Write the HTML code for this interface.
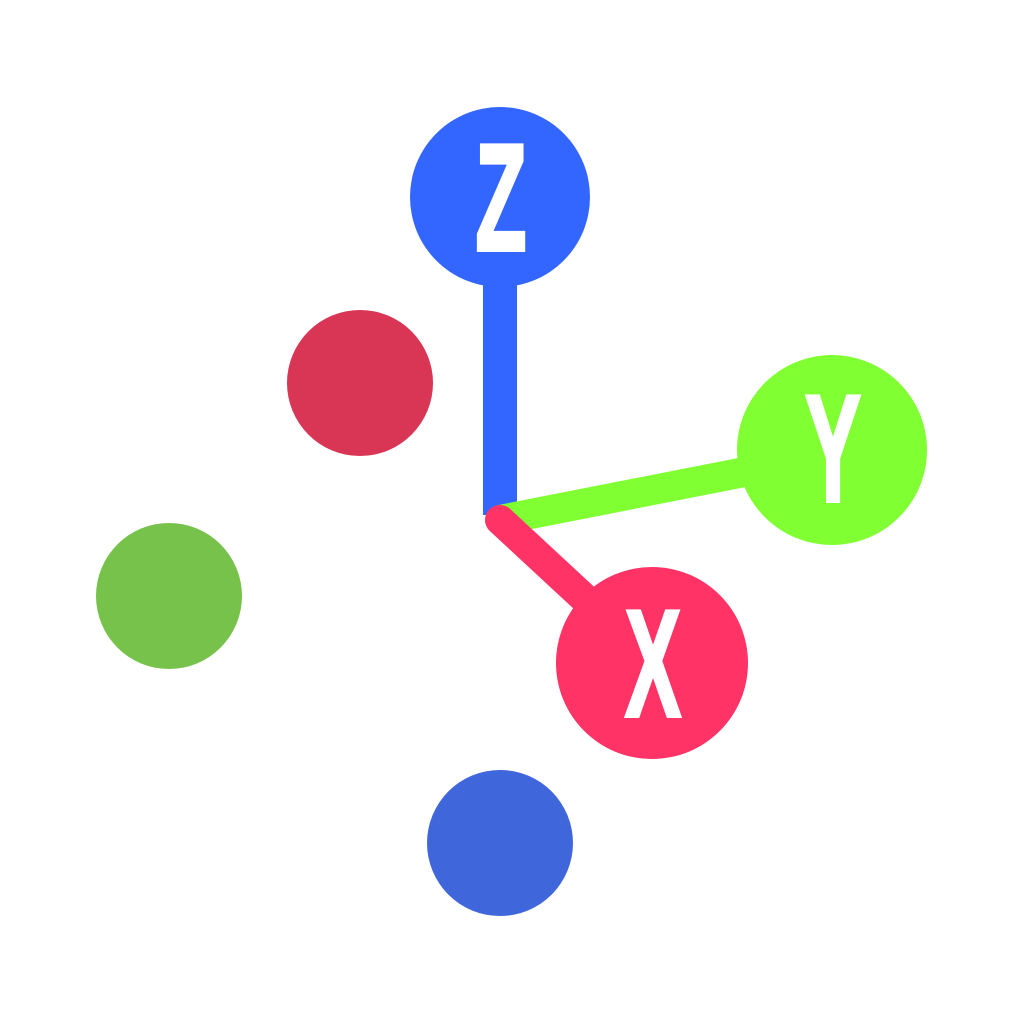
<!DOCTYPE html>
<html><head><style>html,body{margin:0;padding:0;background:#fff;width:1024px;height:1024px;overflow:hidden}</style></head>
<body>
<svg width="1024" height="1024" viewBox="0 0 1024 1024" xmlns="http://www.w3.org/2000/svg">
<rect width="1024" height="1024" fill="#fff"/>
<circle cx="360" cy="383" r="73" fill="#D93656"/>
<circle cx="169" cy="596" r="73" fill="#77C24A"/>
<circle cx="500" cy="843" r="73" fill="#4066DB"/>
<line x1="500" y1="270" x2="500" y2="515" stroke="#3366FF" stroke-width="34"/>
<line x1="500" y1="520" x2="770" y2="467" stroke="#80FF33" stroke-width="30"/>
<line x1="500" y1="520" x2="610" y2="622" stroke="#FF3366" stroke-width="30" stroke-linecap="round"/>
<circle cx="500" cy="197" r="90" fill="#3366FF"/>
<circle cx="832" cy="450" r="95" fill="#80FF33"/>
<circle cx="652" cy="663" r="96" fill="#FF3366"/>
<g font-family="Liberation Sans, sans-serif" font-weight="bold" fill="#fff" stroke="#fff" stroke-width="4" stroke-linejoin="miter" text-anchor="middle" font-size="152">
<text transform="translate(501,250) scale(0.55,1)" x="0" y="0">Z</text>
<text transform="translate(833,501) scale(0.55,1)" x="0" y="0">Y</text>
<text transform="translate(653,716) scale(0.55,1)" x="0" y="0">X</text>
</g>
</svg>
</body></html>
